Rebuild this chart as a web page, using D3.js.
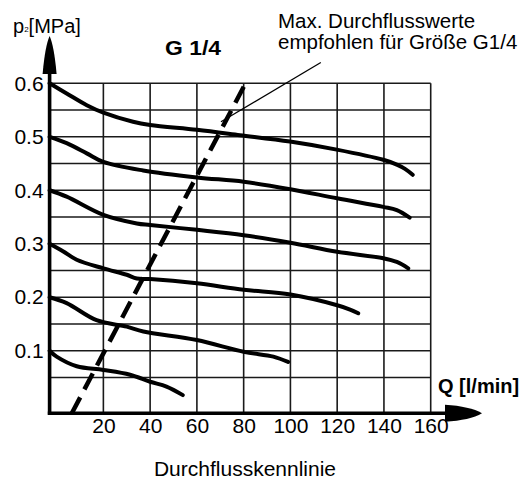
<!DOCTYPE html>
<html>
<head>
<meta charset="utf-8">
<script src="https://cdn.jsdelivr.net/npm/d3@7/dist/d3.min.js"></script>
<style>
  html, body { margin: 0; padding: 0; background: #fff; }
  svg { display: block; }
  text { font-family: "Liberation Sans", Arial, sans-serif; fill: #000; }
</style>
</head>
<body>
<svg id="chart" width="528" height="480"></svg>
<script>
// Flow characteristic G 1/4: outlet pressure p2 [MPa] vs. flow Q [l/min]
const qTicks = [20, 40, 60, 80, 100, 120, 140, 160];
const pTicks = [0.1, 0.2, 0.3, 0.4, 0.5, 0.6];
const qGrid = [20, 40, 60, 80, 100, 120, 140, 160];
const pGrid = [0.05, 0.1, 0.15, 0.2, 0.25, 0.3, 0.35, 0.4, 0.45, 0.5, 0.55, 0.6];

// curves by set pressure, points as [Q, p2]
const curve06 = [[-3, 0.600], [4.3, 0.581], [12.9, 0.559], [20, 0.545], [32.7, 0.528], [40, 0.522], [60, 0.513],
  [78.4, 0.503], [99.8, 0.491], [119.8, 0.476], [139.7, 0.457], [145.5, 0.448], [149, 0.440], [152.3, 0.429]];
const curve05 = [[-3, 0.500], [4.3, 0.488], [12.9, 0.469], [20, 0.453], [37, 0.437], [60, 0.424], [80, 0.416],
  [100, 0.402], [120, 0.385], [139.7, 0.369], [145.5, 0.363], [151, 0.349]];
const curve04 = [[-3, 0.400], [4.3, 0.388], [20, 0.354], [34.3, 0.338], [40, 0.335], [60, 0.326], [80, 0.316],
  [100, 0.302], [120, 0.285], [139.7, 0.273], [145.5, 0.266], [150.4, 0.254]];
const curve03 = [[-3, 0.300], [2.7, 0.286], [8.6, 0.270], [20, 0.254], [30, 0.242], [34.3, 0.235], [40, 0.234],
  [60, 0.226], [80, 0.214], [100, 0.205], [120, 0.185], [125.5, 0.177], [129, 0.170]];
const curve02 = [[-3, 0.200], [4.3, 0.189], [17.1, 0.157], [30, 0.145], [37.1, 0.136], [60, 0.120], [80, 0.098],
  [92.7, 0.089], [99, 0.079]];
const curve01 = [[-3, 0.100], [0, 0.089], [8.6, 0.071], [20, 0.064], [31.4, 0.055], [40, 0.042], [47, 0.033], [54, 0.017]];

// recommended maximum flow limit (dashed) and its callout
const limitLine = [[6.5, -0.017], [81.3, 0.604]];
const calloutLine = [[113, 0.639], [70.3, 0.528]];

const svg = d3.select("#chart");
const qMin = -3, qMax = 160, pMin = -0.017, pMax = 0.6;
const x = d3.scaleLinear().domain([qMin, qMax]).range([49.6, 430.7]);
const y = d3.scaleLinear().domain([pMin, pMax]).range([413.3, 83.3]);
const fontFamily = "'Liberation Sans', Arial, sans-serif";

// grid
const grid = svg.append("g").attr("stroke", "#1a1a1a").attr("stroke-width", 1.6);
grid.selectAll("line.v").data(qGrid).join("line")
  .attr("x1", d => x(d)).attr("x2", d => x(d))
  .attr("y1", y(pMin)).attr("y2", y(pMax));
grid.selectAll("line.h").data(pGrid).join("line")
  .attr("x1", x(qMin)).attr("x2", x(qMax))
  .attr("y1", d => y(d)).attr("y2", d => y(d));

// tick labels via d3 axes
const xAxis = svg.append("g").attr("transform", `translate(0,${y(pMin)})`)
  .call(d3.axisBottom(x).tickValues(qTicks).tickSize(0).tickPadding(5).tickFormat(d3.format("d")));
xAxis.select(".domain").remove();
xAxis.selectAll("text").style("font-size", "21px").style("font-family", fontFamily).attr("fill", "#000");

const yAxis = svg.append("g").attr("transform", `translate(${x(qMin)},0)`)
  .call(d3.axisLeft(y).tickValues(pTicks).tickSize(0).tickPadding(6).tickFormat(d3.format(".1f")));
yAxis.select(".domain").remove();
yAxis.selectAll("text").style("font-size", "21px").style("font-family", fontFamily).attr("fill", "#000");

// characteristic curves
const line = d3.line().x(d => x(d[0])).y(d => y(d[1])).curve(d3.curveCatmullRom.alpha(0.5));
svg.append("g").selectAll("path").data([curve06, curve05, curve04, curve03, curve02, curve01]).join("path")
  .attr("d", line)
  .attr("fill", "none").attr("stroke", "#000").attr("stroke-width", 4)
  .attr("stroke-linecap", "round").attr("stroke-linejoin", "round");

// dashed flow limit
svg.append("path").datum(limitLine)
  .attr("d", d3.line().x(d => x(d[0])).y(d => y(d[1])))
  .attr("fill", "none").attr("stroke", "#000").attr("stroke-width", 4.5)
  .attr("stroke-dasharray", "18,9").attr("stroke-linecap", "butt");

// callout leader
svg.append("path").datum(calloutLine)
  .attr("d", d3.line().x(d => x(d[0])).y(d => y(d[1])))
  .attr("fill", "none").attr("stroke", "#000").attr("stroke-width", 1.3);

// axes with arrows
const ax0 = x(qMin), ay0 = y(pMin);
svg.append("line").attr("x1", ax0).attr("x2", ax0).attr("y1", ay0 + 1.5).attr("y2", 70)
  .attr("stroke", "#000").attr("stroke-width", 3.6);
svg.append("line").attr("x1", ax0 - 1.8).attr("x2", 450).attr("y1", ay0).attr("y2", ay0)
  .attr("stroke", "#000").attr("stroke-width", 3.6);
svg.append("path")
  .attr("d", `M${ax0 - 7},74 Q${ax0 - 4.5},46 ${ax0},36 Q${ax0 + 4.5},46 ${ax0 + 7},74 Z`)
  .attr("fill", "#000");
svg.append("path")
  .attr("d", `M445,${ay0 - 8.5} Q470,${ay0 - 7} 482,${ay0} Q470,${ay0 + 7} 445,${ay0 + 8.5} Z`)
  .attr("fill", "#000");

// labels
const yLab = svg.append("text").attr("x", 13).attr("y", 33).style("font-size", "20px");
yLab.append("tspan").text("p");
yLab.append("tspan").attr("dy", -1).style("font-size", "8px").text("2");
yLab.append("tspan").attr("dy", 1).text("[MPa]");

svg.append("text").attr("x", 165).attr("y", 55)
  .style("font-size", "21px").style("font-weight", "bold")
  .attr("textLength", 56).attr("lengthAdjust", "spacingAndGlyphs")
  .text("G 1/4");

svg.append("text").attr("x", 278).attr("y", 28).style("font-size", "20.5px").text("Max. Durchflusswerte");
svg.append("text").attr("x", 278).attr("y", 49).style("font-size", "20.5px").text("empfohlen für Größe G1/4");

svg.append("text").attr("x", 438).attr("y", 393)
  .style("font-size", "20px").style("font-weight", "bold").text("Q [l/min]");

svg.append("text").attr("x", 245).attr("y", 476).attr("text-anchor", "middle")
  .style("font-size", "21px").text("Durchflusskennlinie");
</script>
</body>
</html>
